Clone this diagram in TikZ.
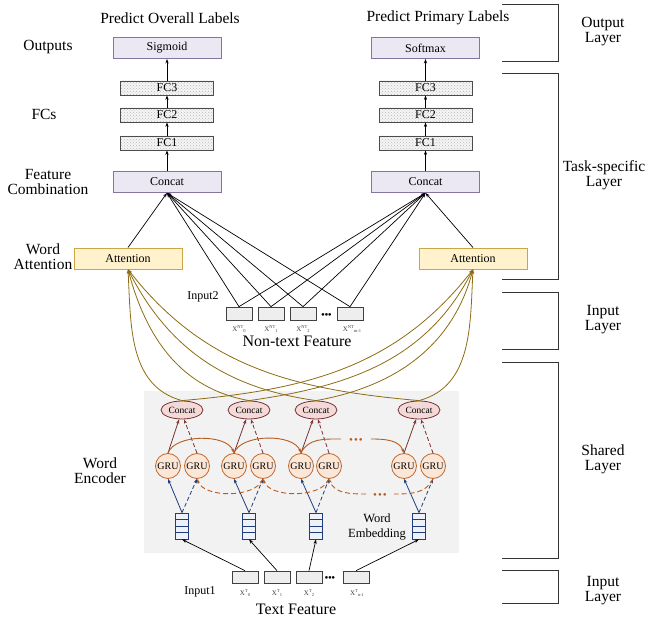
\documentclass[tikz,border=0pt]{standalone}
\usepackage{fontspec}
\setmainfont{Liberation Serif}
\usetikzlibrary{arrows.meta,shapes.geometric,patterns,calc}
\definecolor{lavfill}{HTML}{ECE8F3}
\definecolor{lavdraw}{HTML}{8374A0}
\definecolor{attfill}{HTML}{FFF2CC}
\definecolor{attdraw}{HTML}{C9A646}
\definecolor{goldc}{HTML}{8C6B12}
\definecolor{grufill}{HTML}{FCE6D6}
\definecolor{grudraw}{HTML}{C0672B}
\definecolor{arcc}{HTML}{B85C1E}
\definecolor{ellfill}{HTML}{F3DAD8}
\definecolor{elldraw}{HTML}{7A3333}
\definecolor{bluec}{HTML}{1F3D7A}
\definecolor{stackfill}{HTML}{EEF1F7}
\definecolor{sharedbg}{HTML}{F2F2F2}
\definecolor{ntfill}{HTML}{EEEEEE}
\begin{document}
\begin{tikzpicture}[x=1pt,y=1pt,
  tip/.style={-{Stealth[length=4.5pt,width=3.2pt]}},
  biglbl/.style={font=\fontsize{15.5}{15}\selectfont, align=center, inner sep=0pt},
  outbox/.style={draw=lavdraw, fill=lavfill, line width=0.9pt, minimum width=108pt, minimum height=21pt, inner sep=0pt, font=\fontsize{12}{12}\selectfont},
  fcbox/.style={draw=black!70, line width=0.8pt, preaction={fill=gray!8}, pattern=crosshatch dots, pattern color=gray!55, minimum width=93pt, minimum height=14pt, inner sep=0pt, font=\fontsize{12}{12}\selectfont},
  attbox/.style={draw=attdraw, fill=attfill, line width=0.9pt, minimum width=108pt, minimum height=21pt, inner sep=0pt, font=\fontsize{12}{12}\selectfont},
  ntbox/.style={draw=black!75, fill=ntfill, line width=0.7pt, minimum width=26pt, minimum height=13pt, inner sep=0pt},
  txbox/.style={draw=black!75, fill=ntfill, line width=0.7pt, minimum width=26pt, minimum height=12pt, inner sep=0pt},
  ellnode/.style={ellipse, draw=elldraw, fill=ellfill, line width=0.8pt, minimum width=42pt, minimum height=18pt, inner sep=0pt, font=\fontsize{9.5}{9.5}\selectfont},
  grunode/.style={circle, draw=grudraw, fill=grufill, line width=0.8pt, minimum size=25pt, inner sep=0pt, font=\fontsize{10}{10}\selectfont},
  stacknode/.style={draw=bluec, fill=stackfill, line width=0.8pt, minimum width=13pt, minimum height=26pt, inner sep=0pt,
    path picture={\foreach \k in {1,2,3} \draw[bluec, line width=0.8pt] ($(path picture bounding box.south west)!\k/4!(path picture bounding box.north west)$) -- ($(path picture bounding box.south east)!\k/4!(path picture bounding box.north east)$);}},
  smalllbl/.style={font=\fontsize{12}{12}\selectfont, inner sep=0pt},
  xlbl/.style={font=\fontsize{7}{7}\selectfont, inner sep=0pt, text=black!75},
  dotslbl/.style={font=\fontsize{11}{11}\selectfont, inner sep=0pt},
  blk/.style={tip, draw=black, line width=0.7pt},
  goldarr/.style={tip, draw=goldc, line width=0.8pt},
  fwd/.style={draw=arcc, line width=0.9pt},
  brk/.style={draw=black!80, line width=0.9pt}
]
\useasboundingbox (0,0) rectangle (648,621);
% shared background
\fill[sharedbg] (144,68) rectangle (459,230);

% titles and left labels
\node[biglbl] (t1) at (170,603) {Predict Overall Labels};
\node[biglbl] (t2) at (438,603) {Predict Primary Labels};
\node[biglbl] (l1) at (48,574) {Outputs};
\node[biglbl] (l2) at (44,507) {FCs};
\node[biglbl] (l3) at (48,439) {Feature\\Combination};
\node[biglbl] (l4) at (43,364) {Word\\Attention};
\node[biglbl] (l5) at (100,150) {Word\\Encoder};

% output and FC stacks
\node[outbox] (o1) at (167,573) {Sigmoid};
\node[outbox] (o2) at (425.5,573) {Softmax};
\node[fcbox] (fa3) at (167,533) {FC3};
\node[fcbox] (fa2) at (167,506) {FC2};
\node[fcbox] (fa1) at (167,478) {FC1};
\node[fcbox] (fb3) at (425.5,533) {FC3};
\node[fcbox] (fb2) at (425.5,506) {FC2};
\node[fcbox] (fb1) at (425.5,478) {FC1};
\node[outbox] (c1) at (167,439) {Concat};
\node[outbox] (c2) at (425.5,439) {Concat};
\draw[blk] (c1.north) -- (fa1.south);
\draw[blk] (fa1.north) -- (fa2.south);
\draw[blk] (fa2.north) -- (fa3.south);
\draw[blk] (fa3.north) -- (o1.south);
\draw[blk] (c2.north) -- (fb1.south);
\draw[blk] (fb1.north) -- (fb2.south);
\draw[blk] (fb2.north) -- (fb3.south);
\draw[blk] (fb3.north) -- (o2.south);

% attention
\node[attbox] (a1) at (128,362.5) {Attention};
\node[attbox] (a2) at (473,362.5) {Attention};
\draw[blk] (a1.north) -- (c1.south);
\draw[blk] (a2.north) -- (c2.south);

% non-text features
\node[smalllbl] (in2) at (203,324) {Input2};
\node[ntbox] (n1) at (239,307.5) {};
\node[ntbox] (n2) at (271,307.5) {};
\node[ntbox] (n3) at (303,307.5) {};
\node[ntbox] (n4) at (350,307.5) {};
\node[dotslbl] (nd) at (326.5,305) {\textbullet\kern-0.5pt\textbullet\kern-0.5pt\textbullet};
\node[xlbl] (nl1) at (239,292) {X\raisebox{2.6pt}{\fontsize{4.5}{4.5}\selectfont NT}\raisebox{-1pt}{\fontsize{4.5}{4.5}\selectfont 0}};
\node[xlbl] (nl2) at (271,292) {X\raisebox{2.6pt}{\fontsize{4.5}{4.5}\selectfont NT}\raisebox{-1pt}{\fontsize{4.5}{4.5}\selectfont 1}};
\node[xlbl] (nl3) at (303,292) {X\raisebox{2.6pt}{\fontsize{4.5}{4.5}\selectfont NT}\raisebox{-1pt}{\fontsize{4.5}{4.5}\selectfont 2}};
\node[xlbl] (nl4) at (352,292) {X\raisebox{2.6pt}{\fontsize{4.5}{4.5}\selectfont NT}\raisebox{-1pt}{\fontsize{4.5}{4.5}\selectfont m-1}};
\node[font=\fontsize{16}{16}\selectfont, inner sep=0pt] (ntf) at (297,280) {Non-text Feature};
\foreach \n in {n1,n2,n3,n4} {
  \draw[blk] (\n.north) -- (c1.south);
  \draw[blk] (\n.north) -- (c2.south);
}

% word encoder
\node[ellnode] (e1) at (182,211) {Concat};
\node[ellnode] (e2) at (249,211) {Concat};
\node[ellnode] (e3) at (316,211) {Concat};
\node[ellnode] (e4) at (419,211) {Concat};
\node[grunode] (g1) at (168,155) {GRU};
\node[grunode] (g2) at (197,155) {GRU};
\node[grunode] (g3) at (234,155) {GRU};
\node[grunode] (g4) at (263,155) {GRU};
\node[grunode] (g5) at (301,155) {GRU};
\node[grunode] (g6) at (329,155) {GRU};
\node[grunode] (g7) at (404,155) {GRU};
\node[grunode] (g8) at (433,155) {GRU};
\node[stacknode] (s1) at (182,95) {};
\node[stacknode] (s2) at (249,95) {};
\node[stacknode] (s3) at (316,95) {};
\node[stacknode] (s4) at (419,95) {};
\node[font=\fontsize{12.5}{15}\selectfont, align=center, inner sep=0pt] (we) at (377,94) {Word\\Embedding};

% gold attention curves
\draw[goldarr] (e1.north) to[out=165,in=-87] (a1.south);
\draw[goldarr] (e2.north) to[out=170,in=-75] (a1.south);
\draw[goldarr] (e3.north) to[out=172,in=-63] (a1.south);
\draw[goldarr] (e4.north) to[out=175,in=-52] (a1.south);
\draw[goldarr] (e4.north) to[out=15,in=-93] (a2.south);
\draw[goldarr] (e3.north) to[out=10,in=-105] (a2.south);
\draw[goldarr] (e2.north) to[out=8,in=-117] (a2.south);
\draw[goldarr] (e1.north) to[out=5,in=-128] (a2.south);

% GRU -> concat
\foreach \g/\h/\e in {g1/g2/e1,g3/g4/e2,g5/g6/e3,g7/g8/e4} {
  \draw[tip, draw=elldraw, line width=0.8pt] (\g.north) -- ([xshift=-3pt]\e.south);
  \draw[tip, draw=elldraw, line width=0.8pt, dash pattern=on 4pt off 2.5pt] (\h.north) -- ([xshift=2pt]\e.south);
}
% stack -> GRU
\foreach \s/\g/\h in {s1/g1/g2,s2/g3/g4,s3/g5/g6,s4/g7/g8} {
  \draw[tip, draw=bluec, line width=0.8pt] (\s.north) -- (\g.south);
  \draw[tip, draw=bluec, line width=0.8pt, dash pattern=on 4pt off 2.5pt] (\s.north) -- (\h.south);
}

% forward arcs
\draw[fwd, tip] (g1.north) to[out=70,in=110,looseness=0.8] (g3.north);
\draw[fwd, tip] (g3.north) to[out=70,in=110,looseness=0.8] (g5.north);
\coordinate (fd1) at (341,182);
\coordinate (fd2) at (371,182);
\draw[fwd] (g5.north) to[out=65,in=180] (fd1);
\node[dotslbl, text=arcc] (fdots) at (356,180) {\textbullet\kern1pt\textbullet\kern1pt\textbullet};
\draw[fwd, tip] (fd2) to[out=0,in=110] (g7.north);

% backward arcs (dashed)
\draw[fwd, tip, dash pattern=on 5pt off 3pt] (g4.south) to[out=-110,in=-70,looseness=0.8] (g2.south);
\draw[fwd, tip, dash pattern=on 5pt off 3pt] (g6.south) to[out=-110,in=-70,looseness=0.8] (g4.south);
\coordinate (bd1) at (394,127);
\coordinate (bd2) at (366,127);
\draw[fwd, dash pattern=on 5pt off 3pt] (g8.south) to[out=-115,in=0] (bd1);
\node[dotslbl, text=arcc] (bdots) at (380,125) {\textbullet\kern1pt\textbullet\kern1pt\textbullet};
\draw[fwd, tip, dash pattern=on 5pt off 3pt] (bd2) to[out=180,in=-70] (g6.south);

% text features
\node[smalllbl] (in1) at (200,29) {Input1};
\node[txbox] (x1) at (245,44) {};
\node[txbox] (x2) at (277,44) {};
\node[txbox] (x3) at (309,44) {};
\node[txbox] (x4) at (356,44) {};
\node[dotslbl] (xd) at (330,42) {\textbullet\kern-0.5pt\textbullet\kern-0.5pt\textbullet};
\node[xlbl] (xl1) at (245,28) {X\raisebox{2.6pt}{\fontsize{4.5}{4.5}\selectfont T}\raisebox{-1pt}{\fontsize{4.5}{4.5}\selectfont 0}};
\node[xlbl] (xl2) at (277,28) {X\raisebox{2.6pt}{\fontsize{4.5}{4.5}\selectfont T}\raisebox{-1pt}{\fontsize{4.5}{4.5}\selectfont 1}};
\node[xlbl] (xl3) at (309,28) {X\raisebox{2.6pt}{\fontsize{4.5}{4.5}\selectfont T}\raisebox{-1pt}{\fontsize{4.5}{4.5}\selectfont 2}};
\node[xlbl] (xl4) at (357,28) {X\raisebox{2.6pt}{\fontsize{4.5}{4.5}\selectfont T}\raisebox{-1pt}{\fontsize{4.5}{4.5}\selectfont n-1}};
\node[font=\fontsize{16}{16}\selectfont, inner sep=0pt] (txf) at (296,12) {Text Feature};
\draw[blk] (x1.north) -- (s1.south);
\draw[blk] (x2.north) -- (s2.south);
\draw[blk] (x3.north) -- (s3.south);
\draw[blk] (x4.north) -- (s4.south);

% right brackets
\draw[brk] (502,617) -- (558,617) -- (558,560) -- (502,560);
\draw[brk] (502,548) -- (558,548) -- (558,342) -- (502,342);
\draw[brk] (502,329) -- (558,329) -- (558,272) -- (502,272);
\draw[brk] (502,259) -- (558,259) -- (558,63) -- (502,63);
\draw[brk] (502,51) -- (558,51) -- (558,18) -- (502,18);
\node[biglbl] (r1) at (603,589.5) {Output\\Layer};
\node[biglbl] (r2) at (604,445.5) {Task-specific\\Layer};
\node[biglbl] (r3) at (603,301.5) {Input\\Layer};
\node[biglbl] (r4) at (603,161.5) {Shared\\Layer};
\node[biglbl] (r5) at (603,30.5) {Input\\Layer};
\end{tikzpicture}
\end{document}
